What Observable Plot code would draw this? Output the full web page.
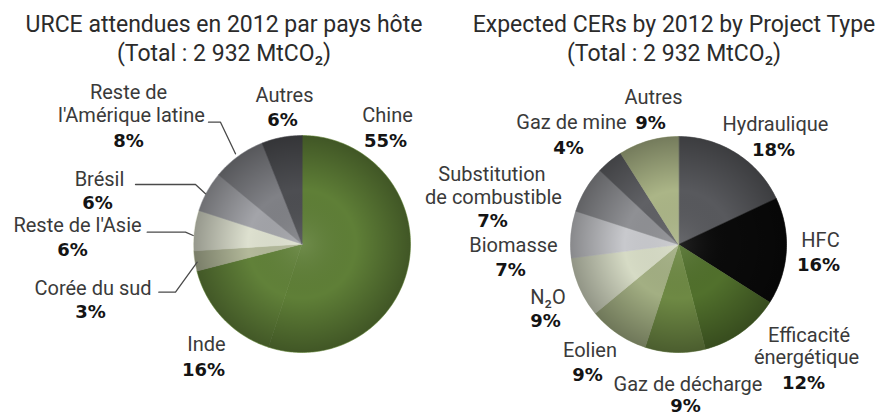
<!DOCTYPE html>
<html><head><meta charset="utf-8">
<script src="https://cdn.jsdelivr.net/npm/d3@7"></script>
<script src="https://cdn.jsdelivr.net/npm/@observablehq/plot@0.6"></script>
<style>
html,body{margin:0;padding:0;background:#fff;}
#wrap{position:relative;width:880px;height:415px;overflow:hidden;}
.title{position:absolute;top:10px;font-family:Roboto,sans-serif;font-size:23px;line-height:29px;color:#2b2b2b;text-align:center;white-space:nowrap;}
#chart{position:absolute;left:0;top:72px;}
</style></head><body>
<div id="wrap">
<div class="title" style="left:0;width:448px">URCE attendues en 2012 par pays hôte<br>(Total : 2 932 MtCO₂)</div>
<div class="title" style="left:448px;width:452px">Expected CERs by 2012 by Project Type<br>(Total : 2 932 MtCO₂)</div>
<div id="chart"></div>
</div>
<script>
// ---- data ----
const hostCountries = ["Chine", "Inde", "Corée du sud", "Reste de l'Asie", "Brésil", "Reste de l'Amérique latine", "Autres"];
const hostShares = [55, 16, 3, 6, 6, 8, 6];
const projectTypes = ["Hydraulique", "HFC", "Efficacité énergétique", "Gaz de décharge", "Eolien", "N₂O", "Biomasse", "Substitution combustible", "Gaz de mine", "Autres"];
const projectShares = [18, 16, 12, 9, 9, 9, 7, 7, 4, 9];

// ---- styles ----
const hostColors = ["#5f7f37", "#618139", "#b3b99a", "#dde0cf", "#a3a4a9", "#808186", "#4d4e52"];
const projectColors = ["#58595d", "#0a0a0a", "#51702c", "#6e8944", "#a3af83", "#d6dbc5", "#c8c9cd", "#8f9094", "#606165", "#abb587"];

// ---- layout (page coordinates; text lines and percentage baselines) ----
const pies = {
  host: {cx: 301.5, cy: 243.5, r: 108.5},
  project: {cx: 678, cy: 244, r: 108}
};
const hostLabelLayout = {
  "Chine": {lines: [["Chine", 387, 121.7]], pct: [385, 146.7]},
  "Inde": {lines: [["Inde", 206, 350]], pct: [203, 375]},
  "Corée du sud": {lines: [["Corée du sud", 92.5, 294]], pct: [90, 317.3]},
  "Reste de l'Asie": {lines: [["Reste de l'Asie", 77, 231.7]], pct: [72, 255]},
  "Brésil": {lines: [["Brésil", 99, 185]], pct: [97, 208.3]},
  "Reste de l'Amérique latine": {lines: [["Reste de", 128, 98], ["l'Amérique latine", 131, 121.7]], pct: [128, 146.7]},
  "Autres": {lines: [["Autres", 284, 101.7]], pct: [282, 125.7]}
};
const projectLabelLayout = {
  "Hydraulique": {lines: [["Hydraulique", 775, 130]], pct: [773, 155]},
  "HFC": {lines: [["HFC", 820, 246.7]], pct: [818, 270]},
  "Efficacité énergétique": {lines: [["Efficacité", 808.5, 341.7], ["énergétique", 806, 363.3]], pct: [803, 388.3]},
  "Gaz de décharge": {lines: [["Gaz de décharge", 687.5, 390.5]], pct: [685, 411.5]},
  "Eolien": {lines: [["Eolien", 589.5, 356.7]], pct: [587, 380]},
  "N₂O": {lines: [["N₂O", 547.5, 303.3]], pct: [545, 326.7]},
  "Biomasse": {lines: [["Biomasse", 513, 251.7]], pct: [510, 275]},
  "Substitution combustible": {lines: [["Substitution", 491.5, 180], ["de combustible", 493, 203.3]], pct: [492, 226.7]},
  "Gaz de mine": {lines: [["Gaz de mine", 571, 128.3]], pct: [568, 153.3]},
  "Autres": {lines: [["Autres", 653, 103.3]], pct: [650, 128.3]}
};
const leaders = [
  {k: "Reste de l'Amérique latine", pts: [[208, 121.7], [220, 121.7], [235, 153.3]]},
  {k: "Brésil", pts: [[135, 184], [195, 184], [205, 193.3]]},
  {k: "Reste de l'Asie", pts: [[146.7, 231.7], [185, 231.7], [192.7, 235]]},
  {k: "Corée du sud", pts: [[158.3, 291.7], [175, 291.7], [196.7, 261.7]]}
];

const LABEL_FS = 20, PCT_FS = 18, TOP = 72, W = 880, H = 415 - TOP, SHADE_R = 108.3;

function slicePoints(cats, shares, key, pie) {
  const total = d3.sum(shares);
  let cum = 0;
  const pts = [];
  cats.forEach((c, i) => {
    const a0 = cum / total * 2 * Math.PI;
    cum += shares[i];
    const a1 = cum / total * 2 * Math.PI;
    const k = key + ":" + c;
    pts.push({k, x: pie.cx, y: pie.cy});
    const n = Math.max(2, Math.ceil((a1 - a0) / (Math.PI / 180)));
    for (let j = 0; j <= n; j++) {
      const a = a0 + (a1 - a0) * j / n;
      pts.push({k, x: pie.cx + pie.r * Math.sin(a), y: pie.cy - pie.r * Math.cos(a)});
    }
  });
  return pts;
}

const slices = [
  ...slicePoints(hostCountries, hostShares, "host", pies.host),
  ...slicePoints(projectTypes, projectShares, "project", pies.project)
];
const colorDomain = [...hostCountries.map(c => "host:" + c), ...projectTypes.map(c => "project:" + c)];
const colorRange = [...hostColors, ...projectColors];

function labelRows(cats, shares, layout) {
  const names = [], pcts = [];
  cats.forEach((c, i) => {
    const L = layout[c];
    L.lines.forEach(([t, x, b]) => names.push({t, x, b}));
    pcts.push({t: shares[i] + "%", x: L.pct[0], b: L.pct[1]});
  });
  return {names, pcts};
}
const hl = labelRows(hostCountries, hostShares, hostLabelLayout);
const pl = labelRows(projectTypes, projectShares, projectLabelLayout);
const nameRows = [...hl.names, ...pl.names];
const pctRows = [...hl.pcts, ...pl.pcts];
const leaderPts = leaders.flatMap(l => l.pts.map(([x, y]) => ({k: l.k, x, y})));

const chart = Plot.plot({
  width: W, height: H,
  margin: 0,
  x: {type: "linear", domain: [0, W], range: [0, W], axis: null},
  y: {type: "linear", domain: [TOP, 415], range: [0, H], axis: null},
  color: {type: "ordinal", domain: colorDomain, range: colorRange},
  style: {background: "#fff", overflow: "visible"},
  marks: [
    Plot.line(slices, {x: "x", y: "y", z: "k", fill: "k", stroke: "k", strokeWidth: 0.6, curve: "linear-closed"}),
    Plot.dot([pies.host, pies.project], {x: "cx", y: "cy", r: SHADE_R, fill: "url(#pieShade)", stroke: "none"}),
    Plot.line(leaderPts, {x: "x", y: "y", z: "k", stroke: "#4a4a4a", strokeWidth: 1.3}),
    Plot.text(nameRows, {x: "x", y: d => d.b - 0.32 * LABEL_FS, text: "t", fontSize: LABEL_FS, fontFamily: "Roboto, sans-serif", fill: "#3a3a3a"}),
    Plot.text(pctRows, {x: "x", y: d => d.b - 0.32 * PCT_FS, text: "t", fontSize: PCT_FS, fontFamily: "DejaVu Sans, sans-serif", fontWeight: "bold", fill: "#141414"})
  ]
});
const defs = d3.select(chart).insert("defs", ":first-child");
const g = defs.append("radialGradient").attr("id", "pieShade");
g.append("stop").attr("offset", "0%").attr("stop-color", "#fff").attr("stop-opacity", 0.1);
g.append("stop").attr("offset", "50%").attr("stop-color", "#000").attr("stop-opacity", 0);
g.append("stop").attr("offset", "100%").attr("stop-color", "#000").attr("stop-opacity", 0.32);
document.getElementById("chart").appendChild(chart);
</script>
</body></html>
